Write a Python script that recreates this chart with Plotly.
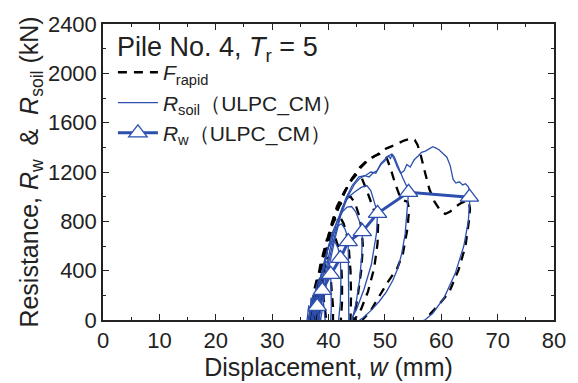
import plotly.graph_objects as go

# ---------------- data ----------------
# R_soil (ULPC_CM) loops, one list pair per load cycle
soil_w = [
    [36.2, 36.5, 36.7, 36.9, 37.0, 37.2, 37.4, 37.6, 37.7, 37.9, 38.1, 38.3],
    [36.4, 36.8, 37.2, 37.5, 37.8, 38.0, 38.3, 38.6],
    [36.6, 37.0, 37.5, 37.9, 38.3, 38.6, 38.9, 39.1, 39.3, 39.4],
    [36.9, 37.4, 37.9, 38.4, 38.9, 39.4, 39.9, 40.2, 40.4, 40.5, 40.5, 40.4],
    [37.1, 37.6, 38.2, 38.8, 39.4, 40.0, 40.6, 41.2, 41.7, 42.1, 42.2, 42.1, 41.8],
    [37.3, 37.9, 38.6, 39.3, 40.0, 40.8, 41.6, 42.3, 42.9, 43.3, 43.5, 43.6, 43.6],
    [37.6, 38.3, 39.0, 39.8, 40.7, 41.6, 42.5, 43.3, 44.1, 44.8, 45.4, 45.8, 46.0, 45.9, 45.5, 44.9, 44.2],
    [38.0, 38.7, 39.5, 40.4, 41.4, 42.5, 43.6, 44.7, 45.8, 46.8, 47.5, 48.1, 48.5, 48.7, 48.5, 47.6, 46.3, 45.0, 44.0],
    [38.3, 39.0, 39.8, 40.8, 41.9, 43.0, 44.2, 45.4, 46.5, 47.5, 48.4, 49.3, 50.0, 50.6, 51.0, 51.3, 51.7,
     52.2, 52.7, 53.2, 53.7, 54.0, 54.2, 54.0, 53.6, 53.0, 52.3, 51.4, 50.3, 49.0, 47.6, 46.2, 45.5],
    [38.6, 39.3, 40.1, 41.1, 42.2, 43.4, 44.6, 45.6, 46.4, 47.2, 48.0, 48.6, 49.3, 50.0, 50.6, 51.2, 51.7,
     52.2, 52.8, 53.4, 53.9, 54.5, 55.2, 55.9, 56.5, 57.2, 57.9, 58.5, 59.0, 59.6, 60.3, 61.0, 61.6, 62.1,
     62.6, 63.2, 63.8, 64.3, 64.8, 65.1, 65.1, 64.8, 64.0, 62.5, 60.5, 58.5, 57.1],
]
soil_R = [
    [0, 120, 40, 180, 90, 200, 60, 170, 30, 150, 60, 0],
    [0, 60, 140, 190, 170, 110, 50, 0],
    [0, 90, 190, 280, 330, 310, 240, 150, 60, 0],
    [0, 110, 220, 320, 400, 460, 480, 440, 370, 250, 120, 0],
    [0, 120, 260, 390, 500, 590, 640, 630, 580, 500, 330, 150, 0],
    [0, 150, 320, 480, 600, 700, 760, 780, 740, 690, 635, 300, 0],
    [0, 180, 380, 560, 710, 810, 880, 915, 920, 880, 810, 760, 716, 520, 320, 140, 0],
    [0, 190, 400, 600, 780, 920, 1000, 1040, 1075, 1090, 1050, 960, 900, 865, 700, 450, 250, 90, 0],
    [0, 200, 420, 630, 820, 980, 1090, 1160, 1170, 1200, 1190, 1270, 1300, 1330, 1310, 1345, 1320,
     1260, 1200, 1150, 1100, 1070, 1035, 900, 700, 540, 420, 320, 230, 150, 80, 20, 0],
    [0, 210, 430, 650, 850, 1000, 1100, 1150, 1170, 1160, 1195, 1210, 1260, 1290, 1330, 1345, 1300,
     1240, 1190, 1210, 1260, 1240, 1300, 1330, 1360, 1370, 1390, 1405, 1395, 1380, 1350, 1320, 1250, 1140,
     1110, 1120, 1095, 1105, 1080, 1040, 1000, 800, 600, 380, 180, 55, 0],
]

# F_rapid loops
rapid_w = [
    [36.5, 37.0, 37.6, 38.1, 38.6, 39.0, 39.4, 39.6],
    [36.8, 37.4, 38.0, 38.6, 39.2, 39.8, 40.3, 40.6, 40.8, 40.8],
    [37.0, 37.6, 38.3, 39.0, 39.7, 40.4, 41.1, 41.7, 42.2, 42.4, 42.4, 42.2],
    [37.2, 37.9, 38.7, 39.5, 40.3, 41.2, 42.0, 42.7, 43.3, 43.6, 43.9, 44.0, 43.9],
    [37.5, 38.3, 39.1, 40.0, 41.0, 42.0, 43.0, 43.9, 44.7, 45.4, 45.9, 46.1, 45.8, 45.2, 44.5],
    [37.8, 38.6, 39.5, 40.5, 41.6, 42.8, 44.0, 45.0, 45.9, 46.8, 47.6, 48.3, 48.8, 48.7, 48.1, 47.0, 45.8, 44.6],
    [38.0, 38.8, 39.7, 40.7, 41.8, 43.0, 44.3, 45.6, 46.9, 48.2, 49.3, 50.2, 51.0, 51.8, 52.6, 53.3, 54.0,
     54.3, 54.0, 53.2, 52.2, 50.4, 49.0, 47.4, 46.0],
    [38.2, 38.8, 39.5, 40.4, 41.5, 42.8, 44.2, 45.6, 47.0, 48.6, 50.2, 51.8, 53.4, 54.6, 55.3, 55.8, 56.4,
     57.1, 57.9, 58.8, 59.8, 60.7, 61.6, 62.6, 63.6, 64.4, 64.9, 65.1, 64.9, 64.3, 63.1, 61.4, 59.3, 57.0],
]
rapid_R = [
    [0, 130, 270, 360, 330, 230, 100, 0],
    [0, 160, 330, 460, 530, 500, 390, 250, 110, 0],
    [0, 170, 370, 530, 650, 700, 680, 600, 480, 320, 150, 0],
    [0, 200, 430, 600, 740, 820, 840, 780, 680, 580, 400, 200, 0],
    [0, 230, 480, 680, 830, 930, 990, 1000, 950, 850, 730, 600, 400, 200, 0],
    [0, 260, 540, 760, 900, 1030, 1130, 1180, 1150, 1050, 950, 860, 780, 620, 420, 230, 90, 0],
    [0, 270, 560, 780, 920, 1050, 1150, 1230, 1290, 1330, 1350, 1330, 1230, 1110, 1010, 970, 960,
     900, 740, 540, 420, 300, 190, 70, 0],
    [0, 250, 520, 760, 920, 1040, 1150, 1240, 1300, 1340, 1390, 1420, 1455, 1470, 1460, 1420, 1330,
     1200, 1060, 960, 890, 860, 880, 920, 950, 965, 960, 900, 800, 600, 410, 225, 110, 0],
]

# R_w (ULPC_CM) points
rw_w = [38.0, 38.9, 40.4, 42.1, 43.5, 46.0, 48.7, 54.2, 65.0]
rw_R = [110, 240, 370, 500, 635, 716, 865, 1035, 996]

x_ticks = [0, 10, 20, 30, 40, 50, 60, 70, 80]
y_ticks = [0, 400, 800, 1200, 1600, 2000, 2400]

BLUE = "#2d4fae"
INK = "#222222"
FONT = "Liberation Sans, Arial, sans-serif"


def join(groups):
    out = []
    for g in groups:
        out.extend(g)
        out.append(None)
    return out


fig = go.Figure()
fig.add_trace(go.Scatter(
    x=join(rapid_w), y=join(rapid_R), mode="lines",
    line=dict(color="black", width=2.3, dash="9px,7px"),
    name="<i>F</i><sub>rapid</sub>",
))
fig.add_trace(go.Scatter(
    x=join(soil_w), y=join(soil_R), mode="lines",
    line=dict(color=BLUE, width=1.3),
    name="<i>R</i><sub>soil</sub>\uff08ULPC_CM\uff09",
))
fig.add_trace(go.Scatter(
    x=rw_w, y=rw_R, mode="lines+markers",
    line=dict(color=BLUE, width=3),
    marker=dict(symbol="triangle-up", size=16, color="white",
                line=dict(color=BLUE, width=1.3)),
    name="<i>R</i><sub>w</sub>\uff08ULPC_CM\uff09",
))

fig.add_annotation(
    x=0.026, y=0.98, xref="paper", yref="paper", xanchor="left", yanchor="top",
    text="Pile No. 4, <i>T</i><sub>r</sub> = 5", showarrow=False,
    font=dict(size=27, color=INK, family=FONT),
)

axis_common = dict(
    showline=True, linecolor=INK, linewidth=1.5, mirror="ticks",
    ticks="inside", ticklen=6, tickwidth=1.2, tickcolor=INK,
    showgrid=False, zeroline=False,
    tickfont=dict(size=22, color=INK, family=FONT),
)
fig.update_xaxes(
    range=[0, 80], tickvals=x_ticks, ticktext=[str(v) for v in x_ticks],
    minor=dict(ticks="inside", ticklen=3, dtick=5, tickcolor=INK, tickwidth=1.2),
    title=dict(text="Displacement, <i>w</i> (mm)", font=dict(size=25, color=INK, family=FONT),
               standoff=0),
    **axis_common,
)
fig.update_yaxes(
    range=[0, 2400], tickvals=y_ticks, ticktext=[str(v) for v in y_ticks],
    minor=dict(ticks="inside", ticklen=3, dtick=200, tickcolor=INK, tickwidth=1.2),
    title=dict(text="Resistance, <i>R</i><sub>w</sub>  &  <i>R</i><sub>soil</sub> (kN)",
               font=dict(size=25, color=INK, family=FONT), standoff=2),
    **axis_common,
)

fig.update_layout(
    width=578, height=383,
    margin=dict(l=103, r=12, t=16, b=61),
    paper_bgcolor="white", plot_bgcolor="white",
    showlegend=True,
    legend=dict(
        x=0.022, y=0.905, xanchor="left", yanchor="top",
        bgcolor="rgba(0,0,0,0)", borderwidth=0,
        font=dict(size=21, color=INK, family=FONT),
        tracegroupgap=0, itemwidth=40,
    ),
)

fig.write_html("out.html")
